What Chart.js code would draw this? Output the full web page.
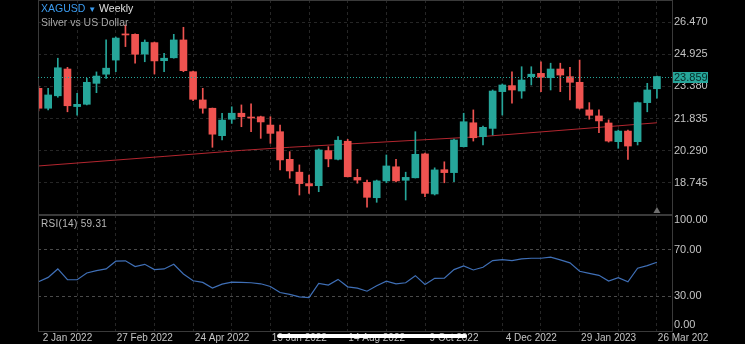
<!DOCTYPE html>
<html>
<head>
<meta charset="utf-8">
<script src="https://cdn.jsdelivr.net/npm/chart.js@4.4.0/dist/chart.umd.min.js"></script>
<style>
  html, body { margin: 0; padding: 0; background: #000; }
  body { width: 745px; height: 344px; position: relative; overflow: hidden; font-family: "Liberation Sans", Arial, sans-serif; }
  canvas { position: absolute; left: 0; }
  #main { top: 0; }
  #rsi { top: 215px; }
  .legend { position: absolute; left: 41px; top: 2px; font-size: 10.5px; line-height: 13px; color: #e0e0e0; }
  .legend .sym { color: #3b9cf0; }
  .legend .desc { color: #a8a8a8; }
  .rsi-label { position: absolute; left: 41px; top: 218px; font-size: 10px; color: #b8b8b8; letter-spacing: 0.3px; }
  .home { position: absolute; left: 277px; top: 334px; width: 190px; height: 4px; border-radius: 2px; background: #fff; }
</style>
</head>
<body>
<canvas id="main" width="708" height="215"></canvas>
<canvas id="rsi" width="708" height="130"></canvas>
<div class="legend"><span class="sym">XAGUSD</span> <span class="sym" style="font-size:8px">&#9660;</span> Weekly<br><span class="desc">Silver vs US Dollar</span></div>
<div class="rsi-label" id="rsiLabel"></div>
<div class="home"></div>
<script>
// weekly candles, first one is the week of 12 Dec 2021
const open = [23.29, 22.33, 22.93, 24.22, 22.41, 22.52, 23.53, 23.97, 24.65, 25.91,
  25.89, 24.94, 25.49, 24.62, 24.76, 25.62, 24.09, 22.73, 22.33, 21.01,
  21.80, 22.09, 21.89, 21.92, 21.52, 21.20, 19.87, 19.25, 18.70, 18.60,
  20.29, 19.87, 20.74, 19.00, 18.76, 18.02, 18.83, 19.51, 18.86, 18.98,
  20.13, 18.20, 19.37, 19.23, 20.48, 21.63, 20.96, 21.36, 23.13, 23.42,
  23.16, 23.85, 24.01, 23.80, 24.22, 23.85, 23.58, 22.25, 21.96, 21.62,
  20.72, 21.23, 20.72, 22.60, 23.27];
const high = [23.40, 23.29, 24.74, 24.30, 23.05, 23.77, 24.08, 25.62, 25.76, 26.34,
  25.91, 25.62, 25.52, 24.98, 25.89, 26.23, 24.12, 23.29, 22.34, 22.09,
  22.40, 22.49, 22.54, 21.95, 21.92, 21.52, 20.24, 19.60, 19.11, 20.37,
  20.48, 20.96, 20.83, 19.39, 18.87, 18.87, 20.08, 19.87, 19.25, 21.20,
  20.17, 19.46, 19.75, 20.85, 22.09, 22.25, 21.47, 23.21, 23.50, 24.09,
  24.33, 24.33, 24.57, 24.50, 24.50, 24.30, 24.65, 22.60, 22.25, 21.77,
  21.28, 21.28, 22.63, 23.53, 23.88];
const low = [22.20, 22.25, 22.86, 22.16, 22.00, 22.49, 23.08, 23.77, 24.09, 25.30,
  24.50, 24.57, 23.98, 24.09, 24.74, 24.09, 22.70, 22.09, 20.45, 20.80,
  21.60, 21.44, 21.20, 20.88, 20.64, 19.36, 18.96, 18.15, 18.23, 18.31,
  19.51, 19.84, 19.02, 18.72, 17.56, 17.80, 18.74, 18.78, 17.91, 18.97,
  18.07, 18.15, 18.74, 18.79, 20.46, 20.75, 20.56, 21.04, 22.00, 22.57,
  22.81, 23.45, 23.13, 23.21, 23.13, 22.73, 22.29, 21.80, 21.15, 20.70,
  20.40, 19.87, 20.56, 22.16, 22.81];
const close = [22.33, 22.97, 24.28, 22.45, 22.52, 23.58, 23.88, 24.26, 25.71, 25.86,
  24.93, 25.51, 24.61, 24.74, 25.62, 24.14, 22.76, 22.33, 21.08, 21.76,
  22.09, 21.92, 21.86, 21.67, 21.12, 19.84, 19.31, 18.70, 18.59, 20.32,
  19.89, 20.79, 19.03, 18.87, 18.04, 18.83, 19.55, 18.83, 19.00, 20.11,
  18.23, 19.36, 19.23, 20.80, 21.68, 20.91, 21.41, 23.16, 23.45, 23.21,
  23.69, 23.97, 23.82, 24.22, 23.93, 23.58, 22.33, 21.99, 21.72, 20.75,
  21.23, 20.51, 22.60, 23.21, 23.859];

// long moving average, read at a few weeks: [week index, value]
const maPoints = [[0, 19.55], [13, 20.01], [21, 20.30], [26, 20.45], [46, 20.97], [64, 21.63]];

// RSI(14), one value per week
const rsi = [42.5, 46.2, 53.5, 44.2, 44.2, 50.0, 52.0, 53.5, 60.2, 60.5,
  55.5, 57.5, 52.9, 53.5, 57.5, 49.1, 43.3, 41.9, 37.0, 40.4,
  42.2, 41.9, 41.6, 40.7, 38.4, 33.2, 31.5, 29.4, 28.8, 41.0,
  39.6, 44.5, 38.1, 37.0, 34.3, 39.0, 43.0, 40.7, 41.6, 47.7,
  40.1, 45.4, 45.6, 52.9, 56.1, 52.6, 54.9, 60.7, 61.6, 60.7,
  62.2, 62.7, 62.7, 63.6, 61.3, 58.7, 51.5, 49.7, 48.0, 43.0,
  45.9, 42.4, 54.1, 56.4, 59.31];

const priceTicks = [18.745, 20.290, 21.835, 23.380, 24.925, 26.470];
const rsiTicks = [100, 70, 30, 0];
const rsiGrid = [30, 70];
const gridWeeks = [4, 8, 12, 16, 20, 24, 28, 32, 36, 40, 44, 48, 52, 56, 60, 64];
const dateLabels = ['2 Jan 2022', '27 Feb 2022', '24 Apr 2022', '19 Jun 2022', '14 Aug 2022', '9 Oct 2022', '4 Dec 2022', '29 Jan 2023', '26 Mar 2023'];
const dateWeeks = [3, 11, 19, 27, 35, 43, 51, 59, 67];

const teal = '#26a69a', red = '#ef5350';
const gridColor = '#262626', frameColor = '#3a3a3a', textColor = '#c4c4c4';
const xMin = -0.05, xMax = 65.56;

Chart.defaults.font.family = '"Liberation Sans", Arial, sans-serif';
Chart.defaults.animation = false;

const candleColor = (ctx) => close[ctx.dataIndex] >= open[ctx.dataIndex] ? teal : red;

const noPad = (s) => { s.paddingTop = 0; s.paddingBottom = 0; s.paddingLeft = 0; s.paddingRight = 0; };

const xAxis = (h) => ({
  type: 'linear', min: xMin, max: xMax, offset: false,
  afterBuildTicks: (s) => { s.ticks = gridWeeks.map(v => ({ value: v })); },
  afterFit: (s) => { s.height = h; noPad(s); },
  ticks: { display: false },
  grid: { color: gridColor, drawTicks: false, offset: false },
  border: { display: false, dash: [3, 3] }
});

const framePlugin = {
  id: 'frame',
  afterDraw(chart) {
    const { ctx, chartArea: a } = chart;
    ctx.save();
    ctx.strokeStyle = frameColor;
    ctx.lineWidth = 1;
    ctx.strokeRect(Math.round(a.left) + 0.5, Math.round(a.top) + 0.5, Math.round(a.right - a.left), Math.round(a.bottom - a.top));
    ctx.restore();
  }
};

const pricePlugin = {
  id: 'price',
  afterDraw(chart) {
    const { ctx, chartArea: a, scales: { x, y } } = chart;
    const last = close[close.length - 1];
    const py = Math.round(y.getPixelForValue(last)) + 0.5;
    ctx.save();
    ctx.strokeStyle = teal;
    ctx.lineWidth = 1;
    ctx.setLineDash([1, 2]);
    ctx.beginPath();
    ctx.moveTo(a.left, py);
    ctx.lineTo(a.right, py);
    ctx.stroke();
    ctx.setLineDash([]);
    ctx.fillStyle = teal;
    ctx.fillRect(a.right + 1, py - 5.5, 35, 11);
    ctx.fillStyle = '#062b27';
    ctx.font = '11px "Liberation Sans", Arial, sans-serif';
    ctx.textBaseline = 'middle';
    ctx.fillText(last.toFixed(3), a.right + 2, py + 0.5);
    // small marker under the last bar
    const lx = x.getPixelForValue(close.length - 1);
    ctx.fillStyle = '#6e6e6e';
    ctx.beginPath();
    ctx.moveTo(lx - 3.5, a.bottom - 1);
    ctx.lineTo(lx + 3.5, a.bottom - 1);
    ctx.lineTo(lx, a.bottom - 7);
    ctx.closePath();
    ctx.fill();
    ctx.restore();
  }
};

new Chart(document.getElementById('main'), {
  type: 'bar',
  data: {
    datasets: [
      {
        type: 'line',
        data: maPoints.map(p => ({ x: p[0], y: p[1] })),
        borderColor: '#b3262f', borderWidth: 1, pointRadius: 0, tension: 0, order: 3
      },
      {
        data: low.map((l, i) => ({ x: i, y: [l, high[i]] })),
        backgroundColor: candleColor, barThickness: 1, grouped: false, order: 2
      },
      {
        data: open.map((o, i) => ({ x: i, y: [o, close[i]] })),
        backgroundColor: candleColor, barThickness: 7, minBarLength: 1, grouped: false, order: 1
      }
    ]
  },
  options: {
    responsive: false,
    layout: { padding: { left: 38, right: 0, top: 0, bottom: 0 } },
    plugins: { legend: { display: false }, tooltip: { enabled: false } },
    scales: {
      x: xAxis(1),
      y: {
        position: 'right', min: 17.236, max: 27.544,
        afterBuildTicks: (s) => { s.ticks = priceTicks.map(v => ({ value: v })); },
        afterFit: (s) => { s.width = 36; noPad(s); },
        ticks: { color: textColor, font: { size: 11 }, padding: 2, callback: (v) => Number(v).toFixed(3) },
        grid: { color: gridColor, drawTicks: false },
        border: { display: false, dash: [3, 3] }
      }
    }
  },
  plugins: [framePlugin, pricePlugin]
});

const rsiTextPlugin = {
  id: 'rsiText',
  afterDraw(chart) {
    const { ctx, chartArea: a, scales: { x, y } } = chart;
    ctx.save();
    ctx.fillStyle = textColor;
    ctx.font = '11px "Liberation Sans", Arial, sans-serif';
    ctx.textBaseline = 'middle';
    ctx.textAlign = 'left';
    rsiTicks.forEach(v => {
      const py = Math.min(Math.max(y.getPixelForValue(v), a.top + 5), a.bottom - 6);
      ctx.fillText(v.toFixed(2), a.right + 2, py);
    });
    ctx.font = '10px "Liberation Sans", Arial, sans-serif';
    ctx.textAlign = 'center';
    dateLabels.forEach((t, i) => {
      ctx.fillText(t, x.getPixelForValue(dateWeeks[i]), a.bottom + 7);
    });
    ctx.restore();
  }
};

new Chart(document.getElementById('rsi'), {
  type: 'line',
  data: {
    datasets: [{
      data: rsi.map((v, i) => ({ x: i, y: v })),
      borderColor: '#3f6fb6', borderWidth: 1.2, pointRadius: 0, tension: 0
    }]
  },
  options: {
    responsive: false,
    layout: { padding: { left: 38, right: 0, top: 0, bottom: 0 } },
    plugins: { legend: { display: false }, tooltip: { enabled: false } },
    scales: {
      x: xAxis(14),
      y: {
        position: 'right', min: 0, max: 100,
        afterBuildTicks: (s) => { s.ticks = rsiGrid.map(v => ({ value: v })); },
        afterFit: (s) => { s.width = 36; noPad(s); },
        ticks: { display: false },
        grid: { color: '#4a4a4a', drawTicks: false },
        border: { display: false, dash: [3, 3] }
      }
    }
  },
  plugins: [framePlugin, rsiTextPlugin]
});

document.getElementById('rsiLabel').textContent = 'RSI(14) ' + rsi[rsi.length - 1].toFixed(2);
</script>
</body>
</html>
